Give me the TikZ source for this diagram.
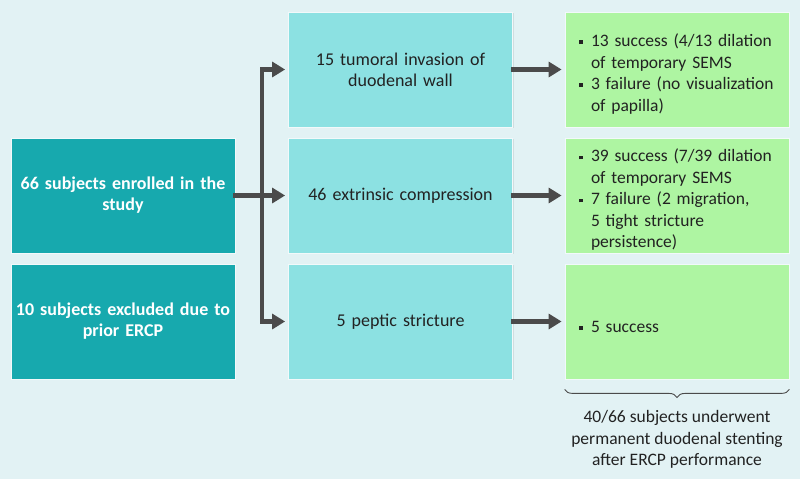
\documentclass[tikz,border=0pt]{standalone}
\usepackage{fontspec}
\setmainfont{Carlito}
\usepackage{tikz}
\usetikzlibrary{calc}
\usetikzlibrary{arrows.meta,decorations.pathreplacing,shadows}

\definecolor{bgblue}{HTML}{E2F2F4}
\definecolor{tealbox}{HTML}{17A9AE}
\definecolor{cyanbox}{HTML}{8CE1E2}
\definecolor{greenbox}{HTML}{AEF5A2}
\definecolor{arrgray}{HTML}{4B4B4B}
\definecolor{txtgray}{HTML}{222222}

\newcommand{\sqbul}{\makebox[12pt][l]{\rule[0.3ex]{3.8pt}{3.8pt}}}
\newcommand{\resitem}[1]{\par\hangindent=12pt\hangafter=1\noindent\sqbul#1\par}

\begin{document}
\begin{tikzpicture}[x=1pt, y=-1pt,
		box/.style={minimum width=224pt, minimum height=115pt, inner sep=0pt, draw=white!55!bgblue, line width=0.8pt, drop shadow={opacity=0.18, shadow xshift=1.2pt, shadow yshift=-1.2pt}},
		leftbox/.style={box, fill=tealbox, text=white, text width=220pt, align=center, font=\fontsize{18}{21}\selectfont\bfseries},
		midbox/.style={box, fill=cyanbox, text=txtgray, text width=220pt, align=center, font=\fontsize{18}{21}\selectfont},
		resbox/.style={box, fill=greenbox, text=txtgray, text width=196pt, align=left, font=\fontsize{17.5}{21.5}\selectfont},
		arr/.style={draw=arrgray, line width=4.5pt, line cap=rect, -{Triangle[length=13pt,width=15pt]}, shorten >=3pt}]
			\fill[bgblue] (0,0) rectangle (800,479);
			\useasboundingbox (0,0) rectangle (800,479);

			\node[leftbox] (enr) at (123,195.5) {66 subjects enrolled in the\\ study};
			\node[leftbox] (exc) at ($(enr)+(0,126)$) {10 subjects excluded due to\\ prior ERCP};

			\node[midbox] (ext) at ($(enr)+(277.5,0)$) {46 extrinsic compression};
			\node[midbox] (tum) at ($(ext)+(0,-126)$) {15 tumoral invasion of\\ duodenal wall};
			\node[midbox] (pep) at ($(ext)+(0,126)$) {5 peptic stricture};

			\node[resbox] (r1) at ($(tum)+(276.5,0)$) {\resitem{13 success (4/13 dilation\newline of temporary SEMS}\resitem{3 failure (no visualization\newline of papilla)}};
			\node[resbox] (r2) at ($(ext)+(276.5,0)$) {\resitem{39 success (7/39 dilation\newline of temporary SEMS}\resitem{7 failure (2 migration,\newline 5 tight stricture\newline persistence)}};
			\node[resbox] (r3) at ($(pep)+(276.5,0)$) {\resitem{5 success}};

			\coordinate (jt) at ($(tum.west)+(-26,0)$);
			\coordinate (jb) at ($(pep.west)+(-26,0)$);

			\draw[arr] (enr.east) -- (ext.west);
			\draw[arr] (jt) -- (tum.west);
			\draw[arr] (jt) -- (jb) -- (pep.west);

			\draw[arr] (tum.east) -- (r1.west);
			\draw[arr] (ext.east) -- (r2.west);
			\draw[arr] (pep.east) -- (r3.west);

			% brace under the results
			\coordinate (bl) at ($(r3.south west)+(0,10)$);
			\coordinate (br) at ($(r3.south east)+(0,10)$);
			\draw[arrgray, line width=0.9pt, decorate, decoration={brace, mirror, amplitude=8pt}] (bl) -- (br);
			\node[text=txtgray, align=center, font=\fontsize{17.5}{21.5}\selectfont] (note) at ($(r3.south)+(0,60)$) {40/66 subjects underwent\\ permanent duodenal stenting\\ after ERCP performance};
		\end{tikzpicture}
\end{document}
